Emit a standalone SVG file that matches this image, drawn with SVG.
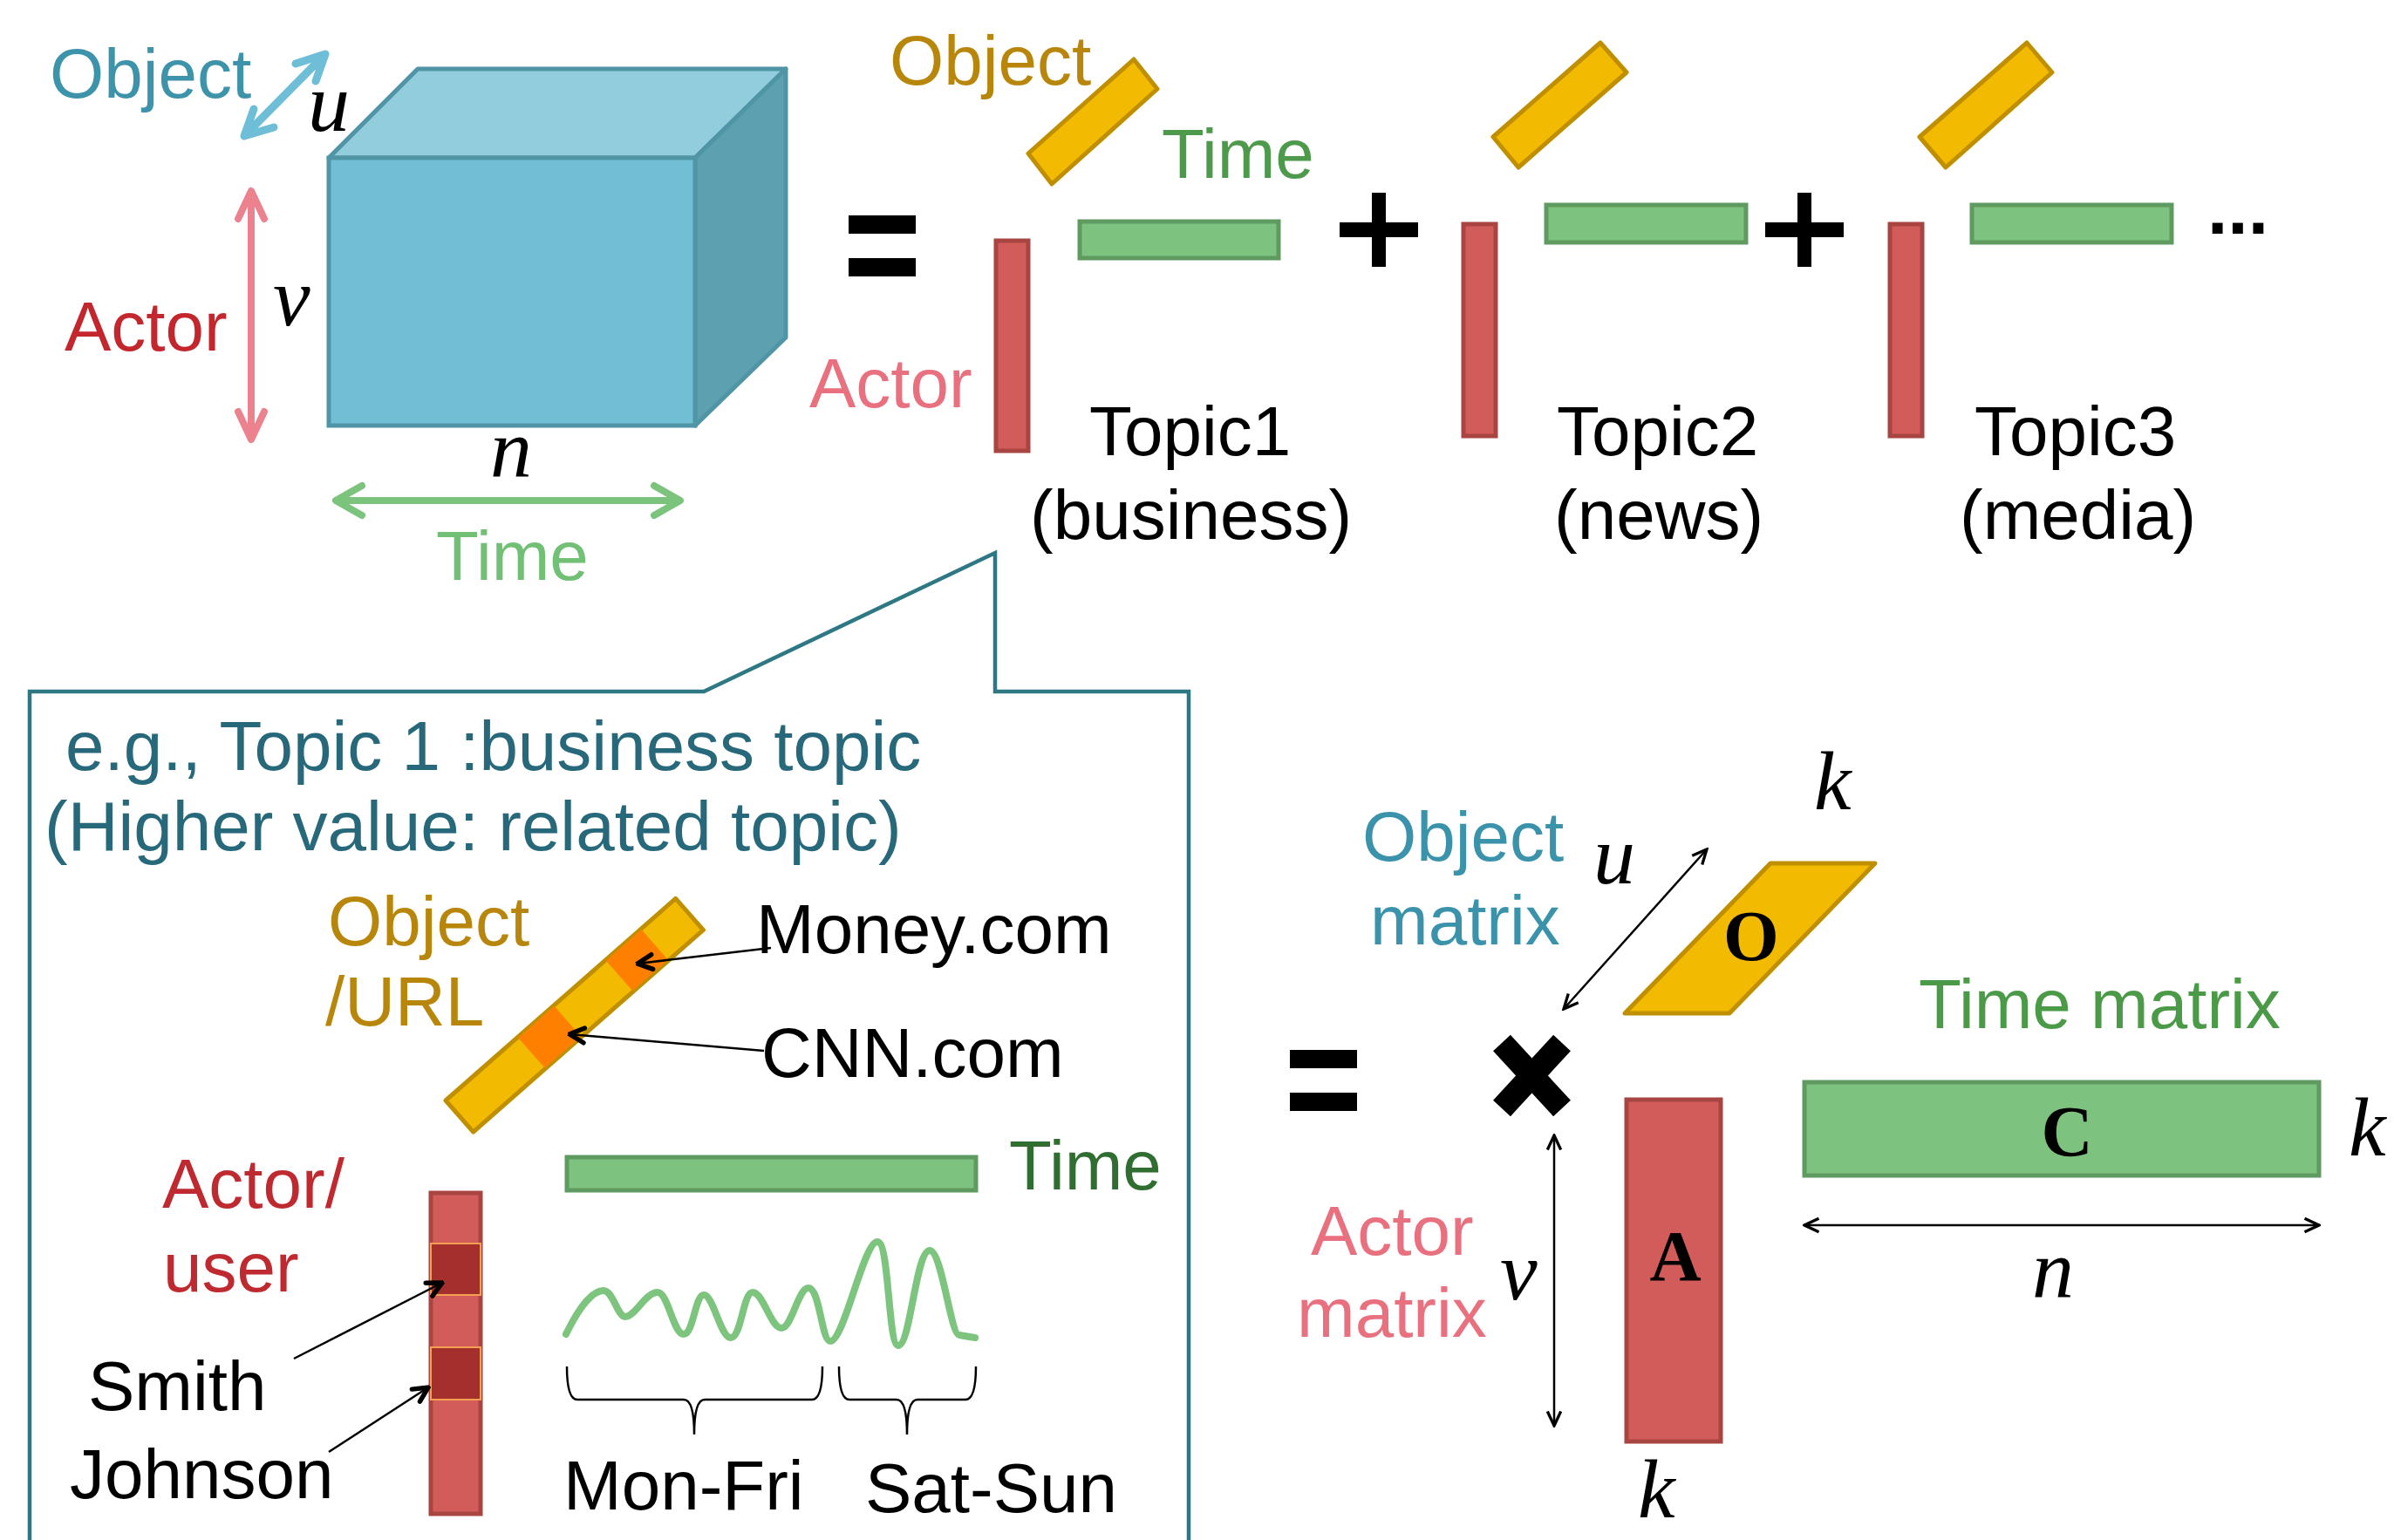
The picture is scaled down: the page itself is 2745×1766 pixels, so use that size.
<svg xmlns="http://www.w3.org/2000/svg" width="2745" height="1766" viewBox="0 0 2745 1766">
<defs>
<style>
.s{font-family:"Liberation Sans",Arial,sans-serif;font-size:80px}
.m{font-family:"Liberation Serif","Times New Roman",serif;font-style:italic;font-size:96px;fill:#000}
.b{font-family:"Liberation Serif","Times New Roman",serif;font-weight:bold;font-size:82px;fill:#000;text-anchor:middle}
.gold{fill:#F2BA00;stroke:#BF8F00;stroke-width:5;stroke-linejoin:round}
.grn{fill:#7DC27F;stroke:#5F9A61;stroke-width:5}
.red{fill:#D25C59;stroke:#A84442;stroke-width:5}
.blk{fill:#000}
.thin{stroke:#000;stroke-width:2.5;fill:none}
.fat{fill:none;stroke-linecap:round;stroke-linejoin:round}
</style>
<marker id="ah" viewBox="0 0 20 20" refX="18" refY="10" markerWidth="22" markerHeight="22" orient="auto-start-reverse" markerUnits="userSpaceOnUse">
<path d="M3,3 L18,10 L3,17" fill="none" stroke="#000" stroke-width="3"/>
</marker>
<marker id="ahb" viewBox="0 0 20 20" refX="18" refY="10" markerWidth="24" markerHeight="24" orient="auto" markerUnits="userSpaceOnUse">
<path d="M4,3 L18,10 L4,17" fill="none" stroke="#000" stroke-width="4.5" stroke-linecap="round"/>
</marker>
</defs>
<rect width="2745" height="1766" fill="#fff"/>

<!-- Cube tensor -->
<g id="cube">
<polygon points="377,181 479,79 901,79 797,181" fill="#92CDDD" stroke="#4F95A5" stroke-width="5" stroke-linejoin="round"/>
<polygon points="797,181 901,79 901,387 797,488" fill="#5DA1B1" stroke="#4F95A5" stroke-width="5" stroke-linejoin="round"/>
<rect x="377" y="181" width="420" height="307" fill="#71BFD4" stroke="#4F95A5" stroke-width="5"/>
</g>
<g id="cube-labels">
<text class="s" x="57" y="112" fill="#3C93AA">Object</text>
<text class="s" x="74" y="402" fill="#C3262D">Actor</text>
<text class="s" x="500" y="665" fill="#72BF76">Time</text>
<text class="m" x="353" y="150">u</text>
<text class="m" x="313" y="373">v</text>
<text class="m" x="562" y="547">n</text>
</g>

<g id="eq-top">
<rect x="973" y="247" width="77" height="21" class="blk"/>
<rect x="973" y="296" width="77" height="21" class="blk"/>
</g>

<g id="topic1">
<text class="s" x="1020" y="97" fill="#B8860A">Object</text>
<text class="s" x="1332" y="204" fill="#4E9A4C">Time</text>
<text class="s" x="928" y="467" fill="#E9707E">Actor</text>
<polygon class="gold" points="1179,176 1300,68 1327,102 1206,211"/>
<rect class="grn" x="1238" y="254" width="228" height="42"/>
<rect class="red" x="1142" y="276" width="37" height="241"/>
<text class="s" x="1249" y="522" fill="#000">Topic1</text>
<text class="s" x="1181" y="618" fill="#000">(business)</text>
</g>

<g id="plus1">
<rect x="1536" y="255" width="90" height="17" class="blk"/>
<rect x="1573" y="221" width="16" height="85" class="blk"/>
</g>

<g id="topic2">
<polygon class="gold" points="1712,157 1835,49 1865,83 1741,192"/>
<rect class="grn" x="1773" y="235" width="229" height="43"/>
<rect class="red" x="1678" y="257" width="37" height="243"/>
<text class="s" x="1785" y="522" fill="#000">Topic2</text>
<text class="s" x="1782" y="618" fill="#000">(news)</text>
</g>

<g id="plus2">
<rect x="2024" y="255" width="90" height="17" class="blk"/>
<rect x="2061" y="221" width="16" height="85" class="blk"/>
</g>

<g id="topic3">
<polygon class="gold" points="2201,157 2324,49 2353,83 2231,192"/>
<rect class="grn" x="2261" y="235" width="229" height="43"/>
<rect class="red" x="2167" y="257" width="37" height="243"/>
<text class="s" x="2264" y="522" fill="#000">Topic3</text>
<text class="s" x="2247" y="618" fill="#000">(media)</text>
</g>
<text x="2531" y="268" font-family="Liberation Sans, Arial, sans-serif" font-weight="bold" font-size="84" fill="#000">...</text>

<!-- Callout -->
<g id="callout">
<polygon points="34,793 807,793 1141,634 1141,793 1363,793 1363,1790 34,1790" fill="none" stroke="#2E7884" stroke-width="4.5"/>
<text class="s" x="75" y="883" fill="#27697A">e.g., Topic 1 :business topic</text>
<text class="s" x="51" y="975" fill="#27697A">(Higher value: related topic)</text>
</g>

<g id="object-url">
<text class="s" x="376" y="1084" fill="#B8860A">Object</text>
<text class="s" x="373" y="1176" fill="#B8860A">/URL</text>
<g transform="translate(511,1262) rotate(-41.3)">
<rect class="gold" x="0" y="0" width="351" height="48"/>
<rect x="110" y="1" width="55" height="46" fill="#FF7F00"/>
<rect x="244" y="1" width="54" height="46" fill="#FF7F00"/>
</g>
<text class="s" x="867" y="1093" fill="#000">Money.com</text>
<text class="s" x="873" y="1235" fill="#000">CNN.com</text>
</g>

<g id="actor-user">
<text class="s" x="186" y="1385" fill="#BF2A30">Actor/</text>
<text class="s" x="187" y="1481" fill="#BF2A30">user</text>
<rect class="red" x="494" y="1368" width="57" height="368"/>
<rect x="494" y="1426" width="57" height="59" fill="#A4302E" stroke="#F5A050" stroke-width="2"/>
<rect x="494" y="1545" width="57" height="60" fill="#A4302E" stroke="#F5A050" stroke-width="2"/>
<text class="s" x="101" y="1617" fill="#000">Smith</text>
<text class="s" x="80" y="1718" fill="#000">Johnson</text>
</g>

<g id="time-series">
<rect class="grn" x="650" y="1327" width="469" height="38"/>
<text class="s" x="1157" y="1364" fill="#2F6E30">Time</text>
<path d="M649,1530 C665,1497 680,1480 692,1480 C703,1480 708,1510 717,1510 C728,1510 740,1482 754,1482 C766,1482 772,1530 784,1530 C795,1530 797,1485 807,1485 C818,1485 826,1534 838,1534 C850,1534 852,1482 863,1482 C875,1482 884,1523 896,1523 C908,1523 915,1477 927,1477 C940,1477 942,1538 952,1538 C968,1538 990,1424 1006,1424 C1020,1424 1018,1543 1030,1543 C1044,1543 1050,1434 1066,1434 C1080,1434 1090,1531 1100,1531 L1118,1534" fill="none" stroke="#7DC47F" stroke-width="8" stroke-linecap="round" stroke-linejoin="round"/>
<path class="thin" d="M650,1567 Q650,1605 662,1605 L784,1605 Q796,1605 796,1645 Q796,1605 808,1605 L931,1605 Q943,1605 943,1567"/>
<path class="thin" d="M962,1567 Q962,1605 974,1605 L1028,1605 Q1040,1605 1040,1645 Q1040,1605 1052,1605 L1107,1605 Q1119,1605 1119,1567"/>
<text class="s" x="646" y="1731" fill="#000">Mon-Fri</text>
<text class="s" x="992" y="1734" fill="#000">Sat-Sun</text>
</g>

<!-- Bottom right factorization -->
<g id="eq-bottom">
<rect x="1479" y="1204" width="77" height="21" class="blk"/>
<rect x="1479" y="1253" width="77" height="21" class="blk"/>
</g>
<g id="times">
<line x1="1722" y1="1196" x2="1791" y2="1271" stroke="#000" stroke-width="27"/>
<line x1="1791" y1="1196" x2="1722" y2="1271" stroke="#000" stroke-width="27"/>
</g>
<g id="object-matrix">
<text class="s" x="1562" y="987" fill="#3A93AB">Object</text>
<text class="s" x="1571" y="1083" fill="#3A93AB">matrix</text>
<polygon class="gold" points="2030,990 2150,990 1983,1162 1863,1162"/>
<text class="b" x="2008" y="1101">O</text>
<text class="m" x="2080" y="928">k</text>
<text class="m" x="1827" y="1013">u</text>
</g>
<g id="time-matrix">
<text class="s" x="2200" y="1179" fill="#4B9A47">Time matrix</text>
<rect class="grn" x="2069" y="1241" width="590" height="107"/>
<text class="b" x="2370" y="1325">C</text>
<text class="m" x="2693" y="1325">k</text>
<text class="m" x="2330" y="1488">n</text>
</g>
<g id="actor-matrix">
<text class="s" x="1503" y="1439" fill="#E9707E">Actor</text>
<text class="s" x="1487" y="1533" fill="#E9707E">matrix</text>
<rect class="red" x="1865" y="1261" width="108" height="392"/>
<text class="b" x="1921" y="1468">A</text>
<text class="m" x="1720" y="1490">v</text>
<text class="m" x="1878" y="1740">k</text>
</g>

<!-- Connectors -->
<g id="connectors">
<g class="fat" stroke="#6DBED6" stroke-width="9">
<line x1="282" y1="154" x2="371" y2="64"/>
<polyline points="339,73 373,62 362,93"/>
<polyline points="314,146 280,156 291,125"/>
</g>
<g class="fat" stroke="#EC828E" stroke-width="8">
<line x1="288" y1="221" x2="288" y2="502"/>
<polyline points="273,251 288,219 303,251"/>
<polyline points="273,472 288,504 303,472"/>
</g>
<g class="fat" stroke="#7CC47E" stroke-width="8">
<line x1="387" y1="574" x2="778" y2="574"/>
<polyline points="415,557 385,574 415,591"/>
<polyline points="750,557 780,574 750,591"/>
</g>
<line class="thin" x1="884" y1="1087" x2="731" y2="1105" marker-end="url(#ahb)"/>
<line class="thin" x1="876" y1="1205" x2="653" y2="1186" marker-end="url(#ahb)"/>
<line class="thin" x1="337" y1="1558" x2="507" y2="1471" marker-end="url(#ahb)"/>
<line class="thin" x1="377" y1="1665" x2="491" y2="1591" marker-end="url(#ahb)"/>
<line class="thin" x1="1957" y1="974" x2="1793" y2="1157" marker-start="url(#ah)" marker-end="url(#ah)"/>
<line class="thin" x1="1782" y1="1302" x2="1782" y2="1635" marker-start="url(#ah)" marker-end="url(#ah)"/>
<line class="thin" x1="2069" y1="1405" x2="2659" y2="1405" marker-start="url(#ah)" marker-end="url(#ah)"/>
</g>
</svg>
